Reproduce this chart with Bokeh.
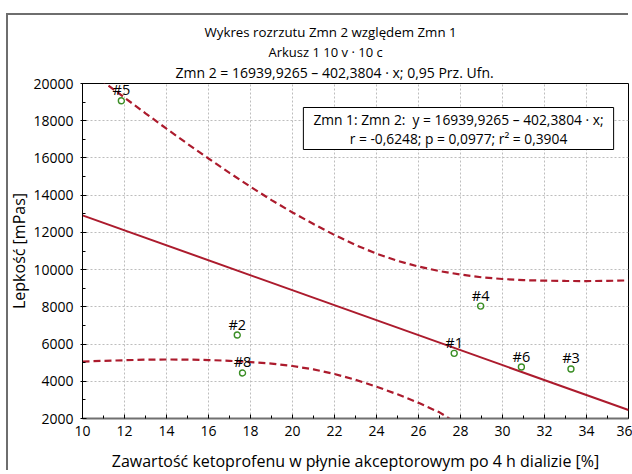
from bokeh.plotting import figure
from bokeh.models import (ColumnDataSource, FixedTicker, LinearAxis, Label,
                          LabelSet, Range1d, Title, InlineStyleSheet)
from bokeh.core.properties import value
from bokeh.embed import file_html
from bokeh.resources import INLINE

# ---------------- data ----------------
case_labels = ["#1", "#2", "#3", "#4", "#5", "#6", "#8"]
ketoprofen = [27.70, 17.37, 33.26, 28.96, 11.85, 30.90, 17.62]
viscosity = [5500, 6485, 4660, 8040, 19070, 4765, 4445]

intercept = 16939.9265
slope = -402.3804

band_x_upper = [10, 11, 12, 13, 14, 15, 16, 17, 18, 19, 20, 21, 22, 23,
                24, 25, 26, 27, 28, 29, 30, 31, 32, 33, 34, 35, 36]
upper_band = [20980, 20090, 19240, 18400, 17570, 16760, 15970, 15200, 14450,
              13735, 13070, 12450, 11860, 11320, 10860, 10470, 10165, 9920,
              9733, 9590, 9495, 9435, 9405, 9390, 9385, 9395, 9420]
band_x_lower = [10, 11, 12, 13, 14, 15, 16, 17, 18, 19, 20, 21, 22, 23,
                24, 25, 26, 27, 28]
lower_band = [5060, 5100, 5130, 5160, 5170, 5165, 5140, 5100, 5030, 4950,
              4820, 4640, 4390, 4080, 3710, 3300, 2840, 2330, 1620]

x_ticks = [10, 12, 14, 16, 18, 20, 22, 24, 26, 28, 30, 32, 34, 36]
x_minor = [11, 13, 15, 17, 19, 21, 23, 25, 27, 29, 31, 33, 35]
y_ticks = [2000, 4000, 6000, 8000, 10000, 12000, 14000, 16000, 18000, 20000]
y_minor = [3000, 5000, 7000, 9000, 11000, 13000, 15000, 17000, 19000]

title_lines = ["Wykres rozrzutu Zmn 2 względem Zmn 1",
               "Arkusz 1 10 v · 10 c",
               "Zmn 2 = 16939,9265 – 402,3804 · x; 0,95 Prz. Ufn."]
legend_text = ("Zmn 1: Zmn 2:\u00a0 y = 16939,9265 – 402,3804 · x;\n"
               "r = -0,6248; p = 0,0977; r² = 0,3904")
x_title = "Zawartość ketoprofenu w płynie akceptorowym po 4 h dializie [%]"
y_title = "Lepkość [mPas]"

FONT = "Open Sans"
RED = "#AC1B2D"
GREEN = "#3B8E26"

x_lo, x_hi = 10, 36
y_lo, y_hi = 2000, 20000

W, H = 632, 474
p = figure(width=W, height=H, output_backend="svg", toolbar_location=None,
           x_range=Range1d(x_lo, x_hi), y_range=Range1d(y_lo, y_hi),
           min_border_left=82, min_border_right=4, min_border_top=83,
           min_border_bottom=56, x_axis_location=None, y_axis_location=None)
p.background_fill_color = "white"
p.border_fill_color = "white"
p.outline_line_color = "black"
p.outline_line_width = 1

# outer frame of the original graph window (left + top edges)
p.stylesheets = [InlineStyleSheet(css=(
    ":host::after { content: ''; position: absolute; left: 6px; top: 13px; "
    "width: 620px; height: 455px; border-left: 2px solid #6e6e6e; "
    "border-top: 2px solid #6e6e6e; pointer-events: none; }"))]

def style_axis(ax, ticks, minor):
    ax.ticker = FixedTicker(ticks=ticks, minor_ticks=minor)
    ax.major_tick_line_color = "black"
    ax.minor_tick_line_color = "black"
    ax.major_tick_in = 4
    ax.major_tick_out = 0
    ax.minor_tick_in = 3
    ax.minor_tick_out = 0
    ax.major_label_text_font = FONT
    ax.major_label_text_color = "black"
    ax.major_label_text_font_size = "14px"
    ax.axis_label_text_font = FONT
    ax.axis_label_text_font_size = "16px"
    ax.axis_label_text_font_style = "normal"
    ax.axis_label_text_color = "black"

xb = LinearAxis()
style_axis(xb, x_ticks, x_minor)
xb.axis_line_color = "#707070"
xb.axis_line_width = 2
xb.major_label_standoff = 7
xb.axis_label = x_title
xb.axis_label_standoff = 11
p.add_layout(xb, "below")

yl = LinearAxis()
style_axis(yl, y_ticks, y_minor)
yl.axis_line_color = "black"
yl.major_tick_out = 2
yl.major_label_standoff = 7
yl.axis_label = y_title
yl.axis_label_standoff = 0
p.add_layout(yl, "left")

# grid
p.xgrid.ticker = FixedTicker(ticks=x_ticks)
p.ygrid.ticker = FixedTicker(ticks=y_ticks)
for g in (p.xgrid, p.ygrid):
    g.grid_line_color = "#bdbdbd"
    g.grid_line_dash = "2 2"
    g.grid_line_width = 1

# regression line
reg_x = [x_lo, x_hi]
reg_y = [intercept + slope * x for x in reg_x]
p.line(reg_x, reg_y, line_color=RED, line_width=2)

# confidence bands
p.line(band_x_upper, upper_band, line_color=RED, line_width=2.2,
       line_dash="7 4")
p.line(band_x_lower, lower_band, line_color=RED, line_width=2.2,
       line_dash="7 4")

# points
src = ColumnDataSource(dict(x=ketoprofen, y=viscosity, lab=case_labels))
p.scatter("x", "y", source=src, marker="circle", size=6, fill_color=None,
          line_color=GREEN, line_width=1.4)
p.add_layout(LabelSet(x="x", y="y", text="lab", source=src, y_offset=11,
                      text_align="center", text_baseline="middle",
                      text_font=value(FONT), text_font_size=value("14.5px"),
                      text_color="black"))

# title lines: first in p.above is nearest the frame
title_offsets = [122, 186, 93]
title_sizes = ["13.3px", "13px", "14px"]
for t, off, fs in reversed(list(zip(title_lines, title_offsets, title_sizes))):
    p.add_layout(Title(text=t, align="left", offset=off,
                       vertical_align="top",
                       text_font=FONT, text_font_size=fs,
                       text_font_style="normal", text_color="black",
                       standoff=0), "above")

# legend box (screen units relative to the plot frame)
p.add_layout(Label(x=376, y=290, x_units="screen", y_units="screen",
                   text=legend_text, text_align="center",
                   text_baseline="middle", text_font=FONT,
                   text_font_size="13.8px", text_color="black",
                   text_line_height=1.0,
                   background_fill_color="white", border_line_color="black",
                   border_line_width=1, padding=(10, 2)))

open("out.html", "w").write(file_html(p, INLINE))
